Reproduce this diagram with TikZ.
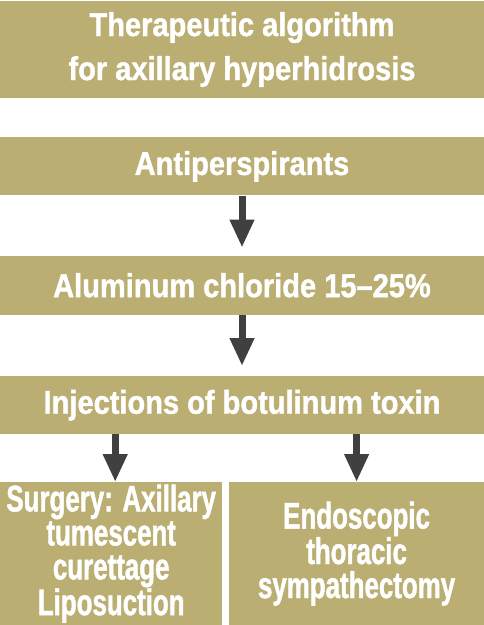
\documentclass[tikz,border=0pt]{standalone}
\usepackage{fontspec}
\newfontfamily\boxfont{Liberation Sans}[FakeStretch=0.88, BoldFeatures={FakeBold=1.2}]
\newfontfamily\leaffont{Liberation Sans}[FakeStretch=0.7, BoldFeatures={FakeBold=1.2}]
\usetikzlibrary{arrows.meta,positioning}
\definecolor{khaki}{RGB}{187,174,115}
\definecolor{arrowgray}{RGB}{64,64,64}

\begin{document}
\begin{tikzpicture}[
  x=1pt, y=-1pt, % pixel grid, y down
  box/.style={fill=khaki, text=white, inner sep=0pt, align=center,
    minimum width=484pt, font=\boxfont\bfseries\fontsize{33}{44}\selectfont},
  leaf/.style={box, minimum width=222pt, minimum height=143pt,
    font=\leaffont\bfseries\fontsize{37}{34}\selectfont},
  flow/.style={draw=arrowgray, line width=7pt, -{Triangle[width=23pt,length=28pt]}}
  ]
\useasboundingbox (0,0) rectangle (484,625);
\node[box, minimum height=97pt] (title) at (242,49.5) {Therapeutic algorithm\\for axillary hyperhidrosis};
\node[box, minimum height=58pt, below=39pt of title] (anti) {Antiperspirants};
\node[box, minimum height=59pt, below=60pt of anti] (alum) {Aluminum chloride 15–25\%};
\node[box, minimum height=58pt, below=61pt of alum] (inject) {Injections of botulinum toxin};
\node[leaf, anchor=north west] (surg) at (0,482) {Surgery: Axillary\\tumescent\\curettage\\Liposuction};
\node[leaf, minimum width=256pt, right=6pt of surg] (endo) {Endoscopic\\thoracic\\sympathectomy};
% arrows
\draw[flow, shorten >=8pt] (anti) -- (alum);
\draw[flow, shorten >=10pt] (alum) -- (inject);
\draw[flow] ([xshift=4pt]inject.south -| surg.north) -- ([xshift=4pt]surg.north);
\draw[flow] (inject.south -| endo.north) -- (endo.north);
\end{tikzpicture}
\end{document}
